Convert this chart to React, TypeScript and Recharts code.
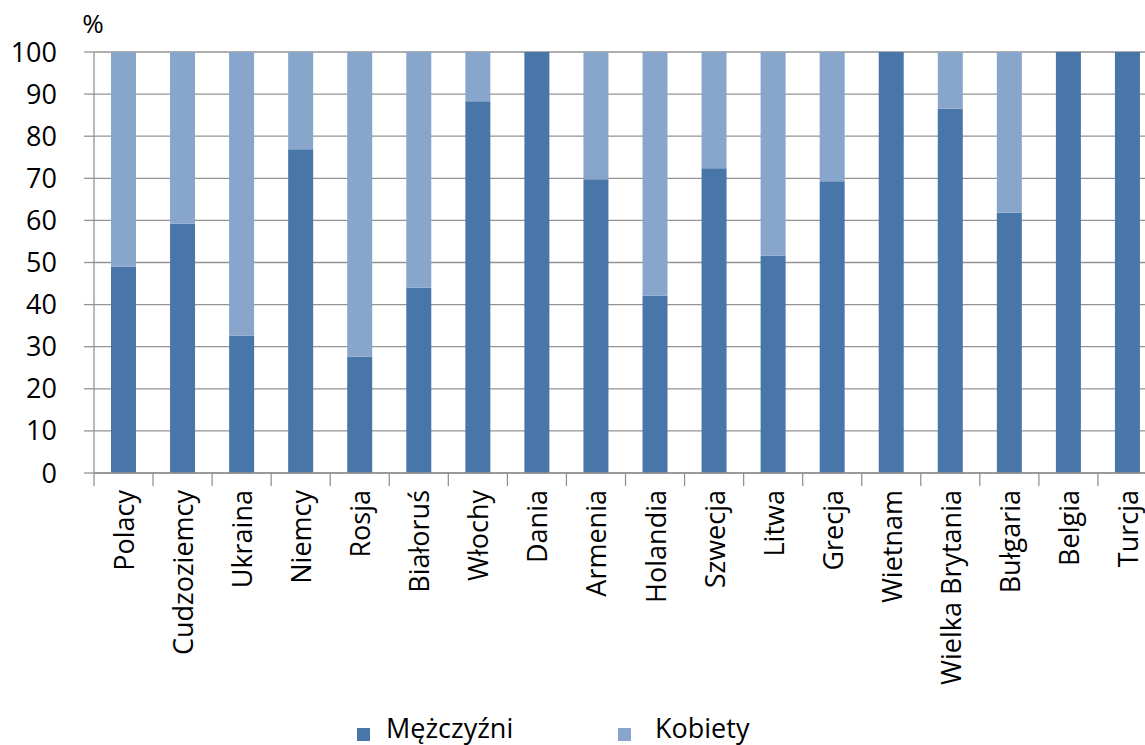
import React from 'react';
import { BarChart, Bar, XAxis, YAxis, CartesianGrid, Legend } from 'recharts';

const countries = [
  'Polacy', 'Cudzoziemcy', 'Ukraina', 'Niemcy', 'Rosja', 'Białoruś', 'Włochy', 'Dania', 'Armenia',
  'Holandia', 'Szwecja', 'Litwa', 'Grecja', 'Wietnam', 'Wielka Brytania', 'Bułgaria', 'Belgia', 'Turcja',
];
const men = [49.0, 59.2, 32.6, 76.9, 27.6, 44.0, 88.3, 100, 69.8, 42.1, 72.4, 51.6, 69.3, 100, 86.5, 61.8, 100, 100];
const women = [51.0, 40.8, 67.4, 23.1, 72.4, 56.0, 11.7, 0, 30.2, 57.9, 27.6, 48.4, 30.7, 0, 13.5, 38.2, 0, 0];
const yTicks = [0, 10, 20, 30, 40, 50, 60, 70, 80, 90, 100];

const DARK = '#4876a8';
const LIGHT = '#88a5cb';
const GRID = '#939393';
const FONT = '"Open Sans", sans-serif';

const CHART_W = 1157;
const CHART_H = 745;
const Y_W = 94;
const BAND = (CHART_W - Y_W) / countries.length;

const data = countries.map((name, i) => ({ name, men: men[i], women: women[i] }));

// category labels, rotated, plus the tick marks between categories
const CountryTick = (props: any) => {
  const { x, y, payload, index } = props;
  return (
    <g>
      <line x1={x - BAND / 2} y1={y} x2={x - BAND / 2} y2={y + 13} stroke={GRID} strokeWidth={1.3} />
      {index === countries.length - 1 && (
        <line x1={x + BAND / 2} y1={y} x2={x + BAND / 2} y2={y + 13} stroke={GRID} strokeWidth={1.3} />
      )}
      <text
        transform={`translate(${x},${y + 17}) rotate(-90)`}
        textAnchor="end"
        dominantBaseline="central"
        fontSize={27}
        fontFamily={FONT}
        fill="#000"
      >
        {payload.value}
      </text>
    </g>
  );
};

const LegendBox = () => (
  <svg width={CHART_W} height={40} style={{ display: 'block' }}>
    <rect x={357} y={23} width={13} height={13} fill={DARK} />
    <text x={386} y={33} fontSize={27} fontFamily={FONT} fill="#000">Mężczyźni</text>
    <rect x={618} y={23} width={13} height={13} fill={LIGHT} />
    <text x={655} y={33} fontSize={27} fontFamily={FONT} fill="#000">Kobiety</text>
  </svg>
);

export default function App() {
  return (
    <div style={{ position: 'absolute', left: 0, top: 0, width: 1145, height: 745, overflow: 'hidden', background: '#fff' }}>
      <BarChart width={CHART_W} height={CHART_H} data={data} margin={{ top: 52, right: 0, bottom: 0, left: 0 }} barSize={25}>
        <CartesianGrid vertical={false} stroke={GRID} strokeWidth={1.3} />
        <XAxis
          dataKey="name"
          interval={0}
          height={232}
          tickSize={0}
          tickMargin={0}
          tickLine={false}
          axisLine={{ stroke: GRID, strokeWidth: 1.3 }}
          tick={<CountryTick />}
        />
        <YAxis
          width={Y_W}
          domain={[0, 100]}
          ticks={yTicks}
          interval={0}
          tickSize={10}
          tickMargin={27}
          axisLine={{ stroke: GRID, strokeWidth: 1.3 }}
          tickLine={{ stroke: GRID, strokeWidth: 1.3 }}
          tick={{ fill: '#000', fontSize: 27, fontFamily: FONT }}
          label={{
            content: () => (
              <text x={93} y={33} textAnchor="middle" fontSize={26} fontFamily={FONT} fill="#000">%</text>
            ),
          }}
        />
        <Legend verticalAlign="bottom" height={40} content={<LegendBox />} />
        <Bar dataKey="men" name="Mężczyźni" stackId="a" fill={DARK} isAnimationActive={false} />
        <Bar dataKey="women" name="Kobiety" stackId="a" fill={LIGHT} isAnimationActive={false} />
      </BarChart>
    </div>
  );
}
